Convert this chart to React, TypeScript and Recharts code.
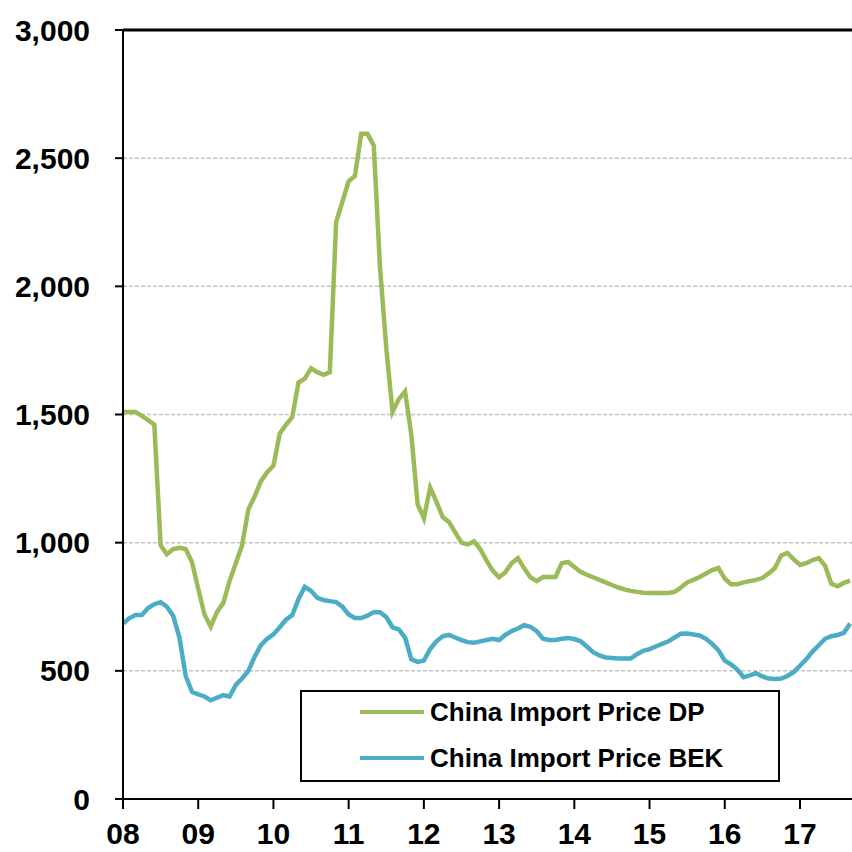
import React from "react";
import {
  LineChart,
  Line,
  XAxis,
  YAxis,
  CartesianGrid,
  ReferenceLine,
  Legend,
} from "recharts";

// Month index from Jan 2008 (0) to Sep 2017 (116)
const yearTickIndex = [0, 12, 24, 36, 48, 60, 72, 84, 96, 108];
const yearTickLabels = ["08", "09", "10", "11", "12", "13", "14", "15", "16", "17"];
const yTicks = [0, 500, 1000, 1500, 2000, 2500, 3000];

const dpSeriesName = "China Import Price DP";
const bekSeriesName = "China Import Price BEK";

const dpValues = [
  1510, 1510, 1510, 1495, 1478, 1460, 990, 955, 975, 980,
  975, 925, 820, 720, 672, 730, 765, 850, 920, 990,
  1130, 1180, 1240, 1275, 1300, 1425, 1460, 1490, 1625, 1640,
  1680, 1665, 1655, 1665, 2250, 2330, 2410, 2430, 2595, 2595,
  2550, 2075, 1760, 1510, 1560, 1590, 1420, 1150, 1095, 1215,
  1160, 1100, 1081, 1040, 1000, 993, 1005, 975, 930, 890,
  865, 885, 920, 940, 900, 865, 850, 866, 866, 866,
  920, 925, 905, 886, 875, 865, 855, 845, 835, 825,
  818, 812, 808, 805, 804, 804, 804, 804, 808, 825,
  845, 855, 866, 880, 893, 901, 860, 838, 838, 845,
  850, 855, 862, 880, 901, 950, 960, 935, 913, 920,
  932, 940, 910, 840, 830, 843, 852,
];

const bekValues = [
  685, 705, 718, 718, 745, 760, 768, 750, 715, 630,
  480, 418, 408, 400, 385, 395, 405, 400, 445, 470,
  500, 555, 600, 625, 642, 670, 700, 718, 780, 828,
  812, 785, 776, 772, 768, 750, 720, 706, 706, 715,
  729, 729, 710, 670, 662, 630, 545, 535, 540, 585,
  615, 635, 640, 630, 620, 612, 610, 615, 620, 625,
  620, 640, 655, 665, 678, 672, 655, 625, 620, 620,
  625, 628, 624, 615, 595, 573, 560, 552, 550, 548,
  548, 548, 565, 578, 585, 595, 605, 615, 630, 645,
  646, 642, 638, 625, 605, 580, 540, 525, 505, 475,
  482, 491, 478, 470, 468, 470, 480, 495, 520, 545,
  575, 600, 625, 635, 640, 648, 685,
];

const data = dpValues.map((v, i) => ({ i, dp: v, bek: bekValues[i] }));

const GREEN = "#9bbb59";
const BLUE = "#4bacc6";
const FONT = "'Liberation Sans', Arial, Helvetica, sans-serif";

const fmtY = (v: number) => v.toLocaleString("en-US");
const fmtX = (v: number) => {
  const k = yearTickIndex.indexOf(v);
  return k >= 0 ? yearTickLabels[k] : "";
};

const LegendBox = () => {
  const rows = [
    { name: dpSeriesName, color: GREEN, center: 20 },
    { name: bekSeriesName, color: BLUE, center: 66 },
  ];
  return (
    <div
      style={{
        position: "relative",
        width: 480,
        height: 92,
        boxSizing: "border-box",
        border: "2px solid #000",
        background: "#fff",
        fontFamily: FONT,
      }}
    >
      {rows.map((r) => (
        <React.Fragment key={r.name}>
          <div
            style={{
              position: "absolute",
              left: 58,
              top: r.center - 2,
              width: 64,
              height: 4,
              background: r.color,
            }}
          />
          <div
            style={{
              position: "absolute",
              left: 128,
              top: r.center - 15,
              height: 30,
              lineHeight: "30px",
              fontSize: 26,
              fontWeight: 700,
              color: "#000",
              whiteSpace: "nowrap",
            }}
          >
            {r.name}
          </div>
        </React.Fragment>
      ))}
    </div>
  );
};

export default function App() {
  return (
    <div
      style={{
        position: "absolute",
        left: 0,
        top: 0,
        width: 852,
        height: 852,
        overflow: "hidden",
        background: "#fff",
        fontFamily: FONT,
      }}
    >
      <LineChart
        width={852}
        height={852}
        data={data}
        margin={{ top: 30, right: 0, left: 18, bottom: 8 }}
      >
        <CartesianGrid
          horizontal={true}
          vertical={false}
          stroke="#c4c4c4"
          strokeWidth={1.5}
          strokeDasharray="4 2"
        />
        <XAxis
          dataKey="i"
          type="number"
          domain={[0, 116.3]}
          ticks={yearTickIndex}
          tickFormatter={fmtX}
          height={45}
          tickSize={10}
          tickMargin={14}
          axisLine={{ stroke: "#000", strokeWidth: 2 }}
          tickLine={{ stroke: "#000", strokeWidth: 2 }}
          tick={{ fill: "#000", fontSize: 30, fontWeight: 700, fontFamily: FONT }}
          allowDataOverflow
        />
        <YAxis
          domain={[0, 3000]}
          ticks={yTicks}
          tickFormatter={fmtY}
          width={105}
          tickSize={8}
          tickMargin={25}
          axisLine={{ stroke: "#000", strokeWidth: 2 }}
          tickLine={{ stroke: "#000", strokeWidth: 2 }}
          tick={{ fill: "#000", fontSize: 30, fontWeight: 700, fontFamily: FONT }}
          interval={0}
        />
        <ReferenceLine y={3000} stroke="#000" strokeWidth={3} />
        <Line
          type="linear"
          dataKey="dp"
          name={dpSeriesName}
          stroke={GREEN}
          strokeWidth={4.5}
          dot={false}
          isAnimationActive={false}
        />
        <Line
          type="linear"
          dataKey="bek"
          name={bekSeriesName}
          stroke={BLUE}
          strokeWidth={4.5}
          dot={false}
          isAnimationActive={false}
        />
        <Legend
          layout="horizontal"
          align="center"
          verticalAlign="middle"
          wrapperStyle={{ left: 300, top: 690, width: 480, height: 92 }}
          content={() => <LegendBox />}
        />
      </LineChart>
    </div>
  );
}
